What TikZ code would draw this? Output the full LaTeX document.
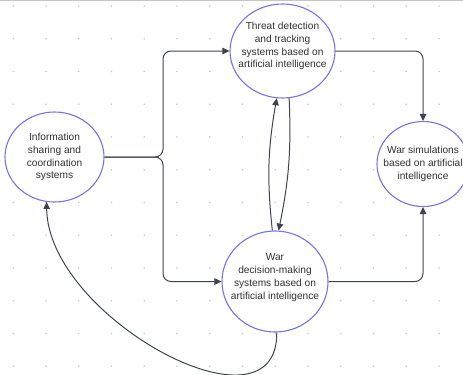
\documentclass[tikz,border=0pt]{standalone}
\usepackage{fontspec}
\setmainfont{Liberation Sans}
\usepackage{tikz}
\usetikzlibrary{shapes.geometric, calc, arrows.meta}

\definecolor{ringblue}{RGB}{122,112,240}
\definecolor{linegray}{RGB}{62,68,78}
\definecolor{textgray}{RGB}{50,50,50}
\definecolor{dotgray}{RGB}{200,200,200}

\tikzset{
  sysnode/.style={ellipse, draw=ringblue, line width=1.1pt, fill=white,
    text=textgray, align=center, inner sep=-30bp,
    font=\fontsize{10.2}{12.8}\selectfont},
  flow/.style={draw=linegray, line width=1pt, rounded corners=8pt,
    -{Triangle[length=7pt,width=6.5pt]}},
}

\begin{document}
\begin{tikzpicture}[x=1bp,y=-1bp]
  \useasboundingbox (0,0) rectangle (463,374);
  \draw[gray!45,line width=1pt] (0,0.5)--(463,0.5); %上の枠
  % 点の格子
  \foreach \i in {0,...,13}{
    \foreach \j in {0,...,11}{
      \fill[dotgray] ({13.3+32.75*\i},{6+32.75*\j}) circle (0.9);
    }
  }
  \node[sysnode, minimum width=105bp, minimum height=94bp, text depth=12bp] (threat) at (282.5,51)
    {Threat detection\\and tracking\\systems based on\\artificial intelligence};
  \node[sysnode, minimum width=99bp, minimum height=90bp] (info) at (54.5,157)
    {Information\\sharing and\\coordination\\systems};
  \node[sysnode, minimum width=92bp, minimum height=85bp] (warsim) at (423,164)
    {War simulations\\based on artificial\\intelligence};
  \node[sysnode, minimum width=106bp, minimum height=101bp, text depth=10bp] (decision) at (275,281.5)
    {War\\decision-making\\systems based on\\artificial intelligence};
  \coordinate (split) at (163,157);

  \draw[flow] (info.east)--(split)|-(threat.west);
  \draw[flow] (info.east)--(split)|-(decision.west);
  \draw[flow] (threat.east)-|(warsim.north);
  \draw[flow] (decision.east)-|(warsim.south);
  \draw[flow] (decision.93) to[bend left=8] (threat.-97);
  \draw[flow] (threat.-82) to[bend left=7] (decision.86);
  \draw[flow] (decision.-88) .. controls (278,442) and (48,318) .. (info.-100);
\end{tikzpicture}
\end{document}
